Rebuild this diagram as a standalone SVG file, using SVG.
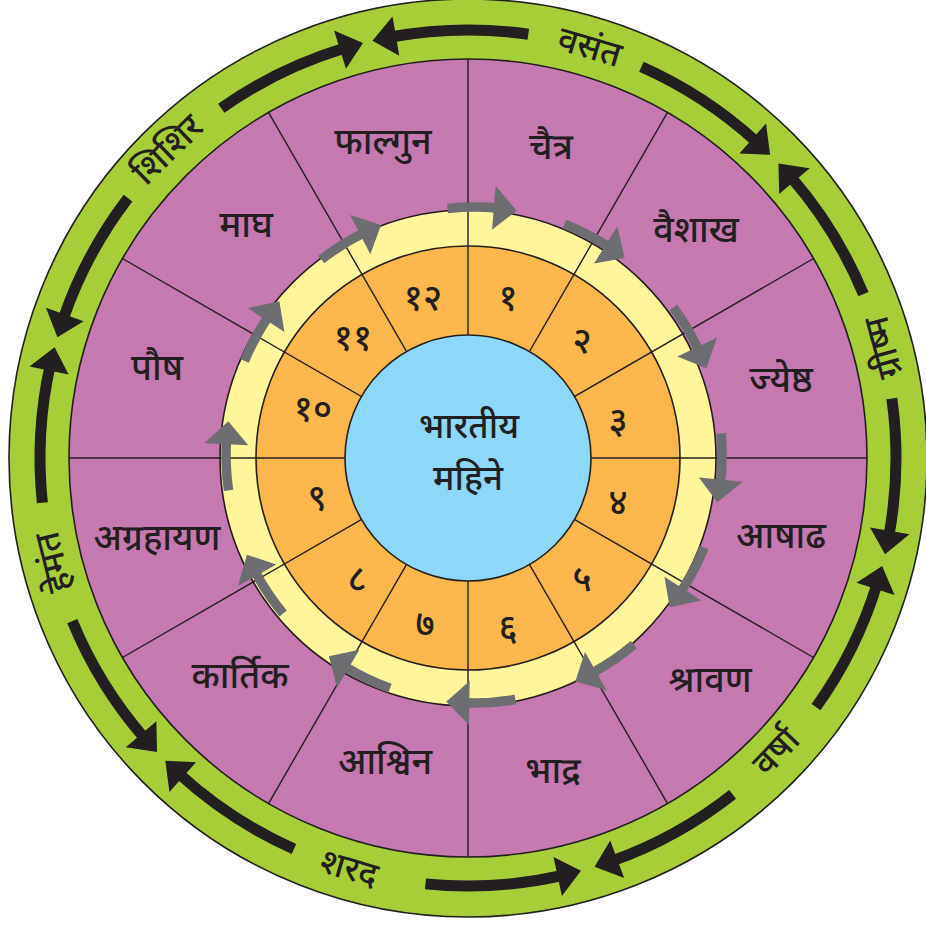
<svg xmlns="http://www.w3.org/2000/svg" xmlns:xlink="http://www.w3.org/1999/xlink" width="926" height="927" viewBox="0 0 926 927">
<style>
.ol{stroke:#231f20;stroke-width:1.6}
.div{stroke:#231f20;stroke-width:1.4}
.t{font-family:'Noto Sans Devanagari','Noto Sans','Lohit Devanagari','FreeSans',sans-serif;fill:#231f20;text-anchor:middle;font-weight:500}
.m{font-size:36px}
.d{font-size:36px}
.s{font-size:35px}
.c{font-size:35px}
.bs{fill:none;stroke:#231f20;stroke-width:11}
.bh{fill:#231f20}
.gs{fill:none;stroke:#6d6e71;stroke-width:9.5}
.gh{fill:#6d6e71}
</style>
<defs>
<g id="bcw"><path class="bs" d="M314.62,58.43 A428,428 0 0 1 449.33,30.41"/><polygon class="bh" points="468,30 442.99,10.70 445.23,50.64"/></g>
<g id="bccw"><path class="bs" d="M621.38,58.43 A428,428 0 0 0 486.67,30.41"/><polygon class="bh" points="468,30 493.01,10.70 490.77,50.64"/></g>
<g id="ga"><path class="gs" d="M474,207 A248,248 0 0 1 523.44,211.98"/><polygon class="gh" points="542.36,216.61 524.08,189.68 515.92,232.92"/></g>
</defs>
<g id="rings">
<circle class="ol" cx="468" cy="458" r="459" fill="#a6ce39"/>
<circle class="ol" cx="468" cy="458" r="399" fill="#c678b0"/>
<circle class="ol" cx="468" cy="458" r="248" fill="#fff69b"/>
<circle class="ol" cx="468" cy="458" r="212" fill="#fbb74c"/>
<g id="dividers">
<line class="div" x1="468" y1="59" x2="468" y2="857"/>
<line class="div" x1="468" y1="59" x2="468" y2="857" transform="rotate(30,468,458)"/>
<line class="div" x1="468" y1="59" x2="468" y2="857" transform="rotate(60,468,458)"/>
<line class="div" x1="468" y1="59" x2="468" y2="857" transform="rotate(90,468,458)"/>
<line class="div" x1="468" y1="59" x2="468" y2="857" transform="rotate(120,468,458)"/>
<line class="div" x1="468" y1="59" x2="468" y2="857" transform="rotate(150,468,458)"/>
</g>
</g>
<g id="center">
<circle class="ol" cx="468" cy="458" r="123" fill="#8dd8f8"/>
<text class="t c" x="469" y="438">भारतीय</text>
<text class="t c" x="468" y="490">महिने</text>
</g>
<g id="months">
<g id="m1"><text class="t m" x="551" y="159">चैत्र</text><text class="t d" x="508" y="310">१</text></g>
<g id="m2"><text class="t m" x="696" y="242">वैशाख</text><text class="t d" x="582" y="353">२</text></g>
<g id="m3"><text class="t m" x="781" y="392">ज्येष्ठ</text><text class="t d" x="618" y="433">३</text></g>
<g id="m4"><text class="t m" x="781" y="548">आषाढ</text><text class="t d" x="618" y="515">४</text></g>
<g id="m5"><text class="t m" x="710" y="692">श्रावण</text><text class="t d" x="582" y="591">५</text></g>
<g id="m6"><text class="t m" x="553" y="783">भाद्र</text><text class="t d" x="508" y="640">६</text></g>
<g id="m7"><text class="t m" x="385" y="774">आश्विन</text><text class="t d" x="425" y="636">७</text></g>
<g id="m8"><text class="t m" x="240" y="688">कार्तिक</text><text class="t d" x="357" y="591">८</text></g>
<g id="m9"><text class="t m" x="157" y="550">अग्रहायण</text><text class="t d" x="317" y="510">९</text></g>
<g id="m10"><text class="t m" x="157" y="380">पौष</text><text class="t d" x="313" y="421">१०</text></g>
<g id="m11"><text class="t m" x="246" y="237">माघ</text><text class="t d" x="353" y="350">११</text></g>
<g id="m12"><text class="t m" x="383" y="154">फाल्गुन</text><text class="t d" x="423" y="310">१२</text></g>
</g>
<g id="seasons">
<g id="s-vasant" transform="translate(589.6,47.6) rotate(16.5)"><text class="t s" x="0" y="11">वसंत</text></g>
<g id="s-grishma" transform="translate(884,347.2) rotate(-105)"><text class="t s" x="0" y="11">ग्रीष्म</text></g>
<g id="s-varsha" transform="translate(776.5,752) rotate(-46)"><text class="t s" x="0" y="11">वर्षा</text></g>
<g id="s-sharad" transform="translate(349,869) rotate(16)"><text class="t s" x="0" y="11">शरद</text></g>
<g id="s-hemant" transform="translate(54,562) rotate(-104)"><text class="t s" x="0" y="11">हेमंत</text></g>
<g id="s-shishir" transform="translate(168,150.1) rotate(-44)"><text class="t s" x="0" y="11">शिशिर</text></g>
</g>
<g id="connectors">
<use xlink:href="#ga" transform="rotate(-6.1,474,455)"/>
<use xlink:href="#ga" transform="rotate(21.4,474,455)"/>
<use xlink:href="#ga" transform="rotate(53.5,474,455)"/>
<use xlink:href="#ga" transform="rotate(85,474,455)"/>
<use xlink:href="#ga" transform="rotate(111.9,474,455)"/>
<use xlink:href="#ga" transform="rotate(139.9,474,455)"/>
<use xlink:href="#ga" transform="rotate(170.4,474,455)"/>
<use xlink:href="#ga" transform="rotate(199.8,474,455)"/>
<use xlink:href="#ga" transform="rotate(230.3,474,455)"/>
<use xlink:href="#ga" transform="rotate(261.8,474,455)"/>
<use xlink:href="#ga" transform="rotate(292.3,474,455)"/>
<use xlink:href="#ga" transform="rotate(322,474,455)"/>
<use xlink:href="#bcw" transform="rotate(-14.2,468,458)"/>
<use xlink:href="#bccw" transform="rotate(-12.9,468,458)"/>
<use xlink:href="#bcw" transform="rotate(44.9,468,458)"/>
<use xlink:href="#bccw" transform="rotate(46.5,468,458)"/>
<use xlink:href="#bcw" transform="rotate(103,468,458)"/>
<use xlink:href="#bccw" transform="rotate(104.6,468,458)"/>
<use xlink:href="#bcw" transform="rotate(162.8,468,458)"/>
<use xlink:href="#bccw" transform="rotate(164.7,468,458)"/>
<use xlink:href="#bcw" transform="rotate(225,468,458)"/>
<use xlink:href="#bccw" transform="rotate(226.6,468,458)"/>
<use xlink:href="#bcw" transform="rotate(285,468,458)"/>
<use xlink:href="#bccw" transform="rotate(286.4,468,458)"/>
</g>
</svg>
